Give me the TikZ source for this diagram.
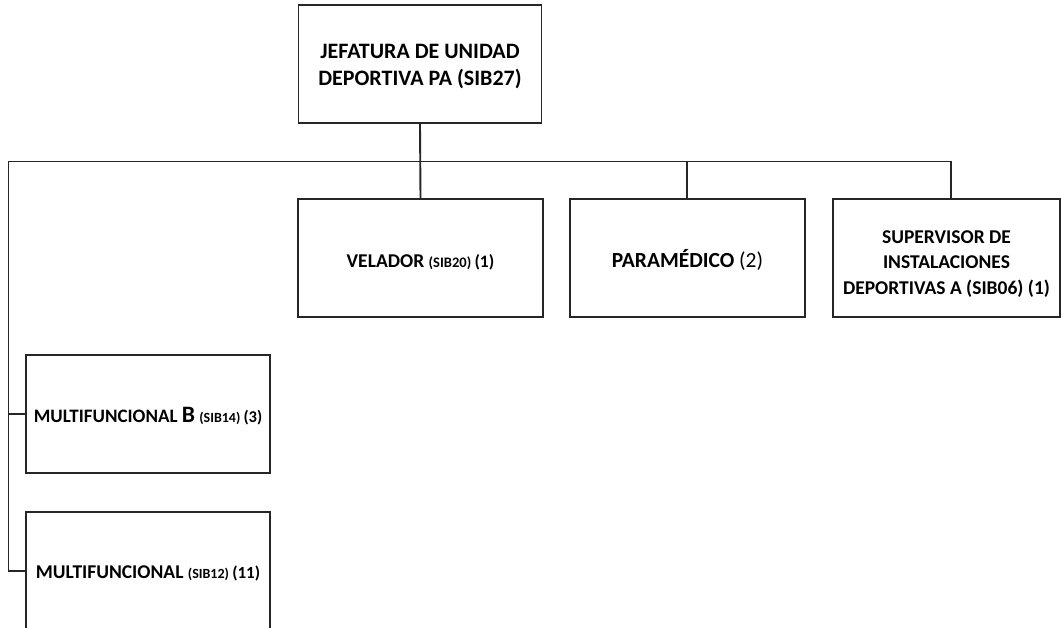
\documentclass[tikz,border=0pt]{standalone}
\usepackage{fontspec}
\setmainfont{Carlito}
\begin{document}
\begin{tikzpicture}[x=1pt,y=-1pt,
  box/.style={draw=black!85, line width=1.9pt, rectangle, align=center, inner sep=2pt, font=\bfseries, text=black},
  lbl/.style={align=center, inner sep=0pt, font=\bfseries, text=black},
  conn/.style={draw=black!85, line width=1.9pt}]
\useasboundingbox (0,0) rectangle (1061,628);
% boxes
\node[box, minimum width=243pt, minimum height=118pt] (jef) at (420,64) {};
\node[box, minimum width=245pt, minimum height=118pt] (vel) at (420.5,258) {};
\node[box, minimum width=235pt, minimum height=118pt] (par) at (687.5,258) {};
\node[box, minimum width=227pt, minimum height=118pt] (sup) at (946.5,258) {};
\node[box, minimum width=244pt, minimum height=118pt] (mb) at (148,414) {};
\node[box, minimum width=244pt, minimum height=118pt] (mf) at (148,571) {};
% labels
\node[lbl, font=\bfseries\fontsize{22}{27}\selectfont] (tjef) at ([yshift=-3pt]jef.center) {JEFATURA DE UNIDAD\\DEPORTIVA PA (SIB27)};
\node[lbl] (tvel) at ([yshift=-4pt]vel.center)
  {\fontsize{19.5}{22}\selectfont VELADOR {\fontsize{14.5}{16}\selectfont(SIB20)}\,{\fontsize{17.5}{19}\selectfont(1)}};
\node[lbl] (tpar) at ([yshift=-2pt]par.center)
  {\fontsize{21.5}{24}\selectfont PARAMÉDICO {\mdseries(2)}};
\node[lbl, font=\bfseries\fontsize{19.5}{25.5}\selectfont] (tsup) at ([yshift=-6pt]sup.center)
  {SUPERVISOR DE\\INSTALACIONES\\DEPORTIVAS A (SIB06) (1)};
\node[lbl] (tmb) at ([yshift=-2pt]mb.center)
  {\fontsize{19}{21}\selectfont MULTIFUNCIONAL {\fontsize{23.5}{25}\selectfont B} {\fontsize{14}{15}\selectfont(SIB14)}\,{\fontsize{16.5}{18}\selectfont(3)}};
\node[lbl] (tmf) at ([yshift=-2pt]mf.center)
  {\fontsize{19.5}{21}\selectfont MULTIFUNCIONAL {\fontsize{14}{15}\selectfont(SIB12)}\,{\fontsize{17}{18}\selectfont(11)}};
% connectors
\coordinate (busL) at (8.5,161.5);
\coordinate (busC) at (420,161.5);
\coordinate (busP) at (687,161.5);
\coordinate (busS) at (951,161.5);
\draw[conn] (jef.south) -- (vel.north);
\draw[conn] (busL) -- (busS);
\draw[conn] (busP) -- (busP |- par.north);
\draw[conn] (busS) -- (busS |- sup.north);
\draw[conn] (busL) |- (mb.west);
\draw[conn] (busL) |- (mf.west);
\end{tikzpicture}
\end{document}
